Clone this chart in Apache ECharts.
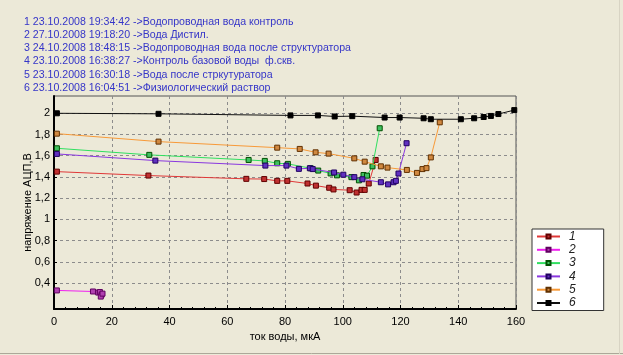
<!DOCTYPE html>
<html>
<head>
<meta charset="utf-8">
<script src="https://cdn.jsdelivr.net/npm/echarts@6/dist/echarts.min.js"></script>
<style>
html,body{margin:0;padding:0;background:#ECE9D8;}
#c{width:623px;height:355px;}
</style>
</head>
<body>
<div id="c"></div>
<script>
// ---- data ----
const headerLines = [
  "1 23.10.2008 19:34:42 ->Водопроводная вода контроль",
  "2 27.10.2008 19:18:20 ->Вода Дистил.",
  "3 24.10.2008 18:48:15 ->Водопроводная вода после структуратора",
  "4 23.10.2008 16:38:27 ->Контроль базовой воды  ф.скв.",
  "5 23.10.2008 16:30:18 ->Вода после стркутуратора",
  "6 23.10.2008 16:04:51 ->Физиологический раствор"
];
const seriesNames = ["1", "2", "3", "4", "5", "6"];
const xAxisName = "ток воды, мкА";
const yAxisName = "напряжение АЦП,В";
const xTicks = [0, 20, 40, 60, 80, 100, 120, 140, 160];
const yTicks = [0.4, 0.6, 0.8, 1.0, 1.2, 1.4, 1.6, 1.8, 2.0];

const s1 = [[1,1.45],[32.7,1.413],[66.6,1.382],[72.8,1.38],[77.3,1.363],[80.8,1.363],[87.8,1.338],[90.7,1.318],[95.3,1.298],[96.8,1.282],[102.4,1.275],[104.8,1.253],[106.5,1.278],[107.6,1.278],[109,1.338],[111.4,1.56]];
const s2 = [[1,0.33],[13.5,0.32],[15.3,0.31],[15.9,0.315],[16.5,0.29],[16.2,0.272],[16.8,0.3]];
const s3 = [[1,1.67],[33,1.608],[67.4,1.56],[73,1.551],[77.3,1.529],[81,1.523],[88.9,1.482],[91.5,1.46],[95.8,1.433],[98,1.415],[103,1.398],[105.6,1.368],[107.2,1.418],[108.4,1.412],[110.3,1.5],[112.8,1.859]];
const s4 = [[1,1.617],[35.1,1.554],[73.2,1.507],[80.5,1.507],[84.8,1.476],[88.6,1.482],[89.6,1.474],[97,1.442],[100.2,1.421],[104,1.398],[106.8,1.378],[113.2,1.35],[115.7,1.33],[117.6,1.35],[118.4,1.363],[119.3,1.432],[122.1,1.718]];
const s5 = [[1,1.808],[36.2,1.733],[77.3,1.676],[85.1,1.664],[90.6,1.632],[95.1,1.62],[104,1.575],[107.6,1.544],[113.2,1.5],[115.5,1.488],[122.2,1.466],[125.7,1.438],[127.6,1.474],[129,1.483],[130.5,1.584],[133.6,1.915]];
const s6 = [[1,2.0],[36.2,1.995],[81.9,1.98],[91.4,1.98],[97.2,1.97],[103.3,1.973],[114.5,1.96],[119.7,1.96],[128,1.953],[130.5,1.944],[140.9,1.944],[145.5,1.953],[148.8,1.965],[151.3,1.975],[153.9,1.993],[159.4,2.03]];

const allData = [s1, s2, s3, s4, s5, s6];
const lineColors = ["#E03838", "#F020F0", "#30E060", "#8A38E0", "#F89A38", "#101010"];
const fillColors = ["#C03030", "#B040B0", "#40C060", "#6030C0", "#D08840", "#000000"];
const borderColors = ["#600000", "#600060", "#005000", "#200060", "#603000", "#000000"];

const chart = echarts.init(document.getElementById('c'), null, {renderer: 'canvas'});
const fmt = v => String(Math.round(v * 10) / 10).replace('.', ',');

const series = allData.map((d, i) => ({
  name: seriesNames[i],
  type: 'line',
  data: d,
  symbol: 'rect',
  symbolSize: 5,
  showAllSymbol: true,
  lineStyle: {color: lineColors[i], width: 1},
  itemStyle: {color: fillColors[i], borderColor: borderColors[i], borderWidth: 1},
  emphasis: {disabled: true},
  animation: false,
  z: 2 + i
}));

chart.setOption({
  backgroundColor: '#ECE9D8',
  animation: false,
  textStyle: {fontFamily: 'Liberation Sans, Arial, sans-serif'},
  title: {
    text: headerLines.join('\n'),
    left: 24, top: 15, padding: 0,
    textStyle: {color: '#3535C8', fontSize: 10.6, fontWeight: 'normal', lineHeight: 13.3, fontFamily: 'Liberation Sans, Arial, sans-serif'}
  },
  grid: {
    left: 54, right: 107, top: 96, bottom: 46,
    show: true, borderColor: '#555555', borderWidth: 1, backgroundColor: 'transparent'
  },
  legend: {
    orient: 'vertical',
    left: 532, top: 229,
    padding: [1, 28, 1, 4],
    itemGap: 0.3,
    itemWidth: 23, itemHeight: 5,
    backgroundColor: '#FFFFFF',
    borderColor: '#333333', borderWidth: 1,
    textStyle: {fontSize: 12, lineHeight: 13, fontStyle: 'italic', color: '#222', padding: [0, 0, 0, 4]},
    data: seriesNames
  },
  xAxis: {
    type: 'value', min: xTicks[0], max: xTicks[xTicks.length - 1], interval: 20,
    name: xAxisName, nameLocation: 'middle', nameGap: 10,
    nameTextStyle: {fontSize: 11, color: '#000'},
    axisLine: {lineStyle: {color: '#000', width: 2}},
    axisTick: {inside: true, length: 4, lineStyle: {color: '#000'}},
    minorTick: {show: true, splitNumber: 5, length: 2, lineStyle: {color: '#000'}},
    axisLabel: {fontSize: 11, color: '#000', margin: 7},
    splitLine: {show: true, lineStyle: {color: '#8C8C8C', type: [3, 3], width: 1}}
  },
  yAxis: {
    type: 'value', min: 0.155, max: 2.163,
    name: yAxisName, nameLocation: 'middle', nameGap: 21, nameRotate: 90,
    nameMoveOverlap: false,
    nameTextStyle: {fontSize: 11, color: '#000'},
    axisLine: {show: true, lineStyle: {color: '#000', width: 2}},
    axisTick: {show: true, inside: true, length: 3, customValues: yTicks, lineStyle: {color: '#000'}},
    axisLabel: {fontSize: 11, color: '#000', margin: 4, customValues: yTicks, formatter: fmt},
    splitLine: {show: true, lineStyle: {color: '#8C8C8C', type: [3, 3], width: 1}}
  },
  graphic: [
    {type: 'line', shape: {x1: 0, y1: 353.5, x2: 623, y2: 353.5}, style: {stroke: '#ACA899', lineWidth: 1}, silent: true},
    {type: 'line', shape: {x1: 619.5, y1: 0, x2: 619.5, y2: 354}, style: {stroke: '#D8D4C4', lineWidth: 1}, silent: true}
  ],
  series: series
});
</script>
</body>
</html>
